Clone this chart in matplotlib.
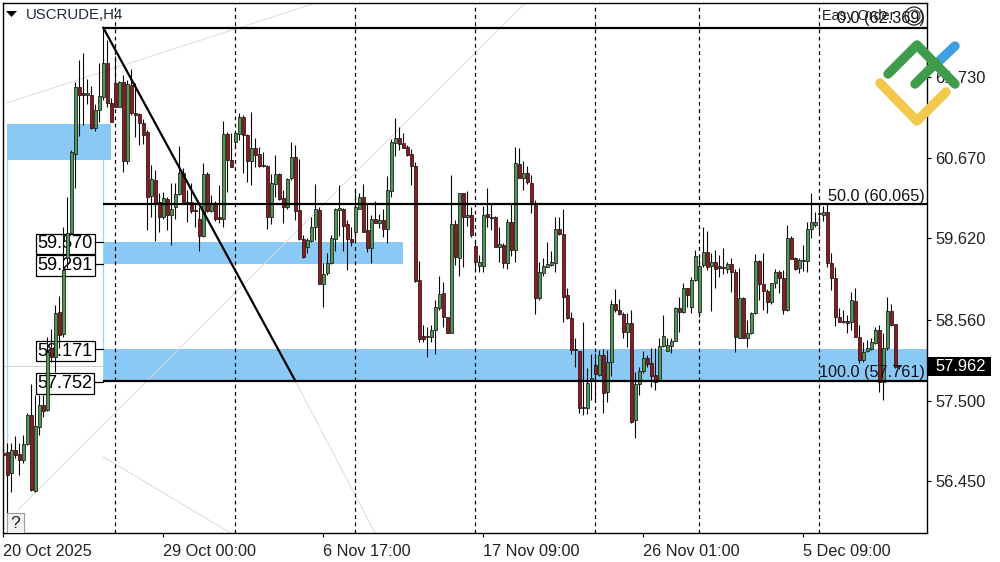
import matplotlib
matplotlib.use("Agg")
import matplotlib.pyplot as plt
from matplotlib.lines import Line2D
from matplotlib.patches import Rectangle, Polygon, Circle
from matplotlib.transforms import Affine2D

opens = [56.82,56.83,56.56,56.86,56.81,56.73,56.94,57.32,56.32,57.16,
57.45,57.38,58.19,58.07,58.66,58.37,59.36,59.69,60.72,61.60,
61.52,61.49,61.49,61.06,61.30,61.46,61.91,61.39,61.65,61.33,
61.66,60.63,61.62,61.26,61.24,61.13,61.01,60.17,60.38,60.09,
59.90,60.13,59.92,60.03,60.20,60.47,60.09,60.09,59.99,59.88,
59.65,60.46,59.98,60.08,59.90,59.88,60.98,60.65,60.88,60.98,
61.20,60.97,60.63,60.80,60.72,60.58,60.56,59.90,60.33,60.46,
60.15,60.03,60.41,60.68,59.99,59.61,59.51,59.59,59.77,59.99,
59.02,59.17,59.30,59.61,59.99,60.00,59.81,59.61,59.70,60.01,
60.16,59.73,59.49,59.88,59.82,59.86,59.74,60.24,60.86,60.93,
60.86,60.81,60.72,60.56,59.08,58.35,58.33,58.33,58.43,58.71,
58.91,58.60,58.39,59.81,59.36,60.21,59.90,59.92,59.52,59.26,
59.26,59.94,59.90,59.90,59.51,59.53,59.30,59.83,59.47,60.59,
60.41,60.47,60.34,60.08,58.84,59.17,59.25,59.27,59.30,59.74,
59.68,58.88,58.58,58.18,58.15,57.42,57.41,57.76,57.97,57.84,
58.10,57.62,58.01,58.77,58.69,58.64,58.40,58.52,57.25,57.72,
57.89,58.06,57.99,57.84,57.76,58.22,58.15,58.22,58.28,58.71,
58.66,58.97,58.72,59.08,58.66,59.27,59.44,59.26,59.31,59.26,
59.25,59.22,59.29,59.18,58.32,58.84,58.32,58.39,58.65,59.32,
59.03,58.93,58.79,59.04,59.18,59.10,58.69,59.62,59.36,59.23,
59.33,59.33,59.74,59.80,59.94,59.92,59.97,59.30,59.10,58.60,
58.54,58.54,58.53,58.80,58.33,58.03,58.15,58.18,58.26,58.43,
57.75,58.19,58.67,58.50,57.96]

highs = [57.06,56.95,56.95,57.04,56.95,57.06,57.34,57.72,57.58,57.58,
57.58,58.33,58.44,58.75,58.87,59.77,60.16,60.77,61.66,61.95,
62.04,61.70,61.61,61.37,61.91,62.37,62.21,61.45,62.00,61.67,
61.75,61.69,61.83,61.65,61.26,61.18,61.04,60.58,60.51,60.21,
60.23,60.16,60.34,60.34,60.83,60.54,60.25,60.34,60.09,60.03,
60.60,60.49,60.19,60.11,60.32,61.15,61.01,60.99,61.04,61.26,
61.23,60.98,61.27,60.93,60.81,60.75,60.58,60.46,60.71,60.47,
60.25,60.41,60.88,60.84,60.66,59.66,59.62,59.90,60.33,60.03,
59.30,59.43,59.66,60.02,60.32,60.02,59.86,59.77,60.28,60.21,
60.33,60.08,59.92,60.11,59.94,60.00,60.43,60.92,61.19,61.07,
60.99,60.84,60.79,60.62,59.32,58.49,58.46,58.49,58.82,59.13,
59.05,58.60,60.45,59.86,60.21,60.21,60.24,60.03,59.58,59.40,
60.05,60.28,60.08,59.91,59.77,59.56,59.88,60.08,60.81,60.80,
60.63,60.56,60.45,60.12,59.31,59.36,59.57,59.45,59.90,59.90,
60.01,58.98,58.66,58.32,58.15,58.53,57.93,58.11,58.12,58.16,
58.18,58.16,58.82,58.96,58.83,58.66,58.65,58.69,57.88,57.94,
58.15,58.10,58.19,58.19,58.32,58.62,58.32,58.32,58.72,58.86,
59.04,58.97,59.12,59.47,59.40,59.77,59.72,59.43,59.47,59.40,
59.49,59.31,59.36,59.22,59.23,58.86,58.56,58.66,59.42,59.34,
59.43,58.96,59.04,59.22,59.21,59.21,59.79,59.65,59.38,59.36,
59.53,59.83,60.21,59.97,60.04,60.05,60.07,59.43,59.25,58.71,
58.69,58.62,58.92,58.97,58.49,58.27,58.30,58.32,58.47,58.49,
58.38,58.85,58.76,58.51,57.97]

lows = [56.51,56.04,56.31,56.75,56.53,56.69,56.92,56.32,56.31,57.05,
57.29,57.37,58.01,57.88,58.19,58.33,59.23,59.68,60.28,60.96,
61.10,61.37,61.05,61.02,61.14,61.43,61.33,61.14,61.33,61.33,
60.49,60.59,61.23,60.94,60.84,60.85,59.73,59.90,59.59,59.71,
59.88,59.73,59.53,59.88,60.19,60.08,59.83,59.95,59.77,59.46,
59.64,59.97,59.97,59.85,59.82,59.77,60.23,60.55,60.80,60.90,
60.47,60.36,60.32,60.55,60.55,60.55,59.75,59.81,60.16,60.12,
59.82,60.01,60.38,59.86,59.60,59.36,59.43,59.57,59.60,59.02,
58.72,59.14,59.29,59.46,59.65,59.46,59.21,59.52,59.57,60.00,
59.70,59.44,59.30,59.82,59.76,59.64,59.56,60.16,60.69,60.77,
60.80,60.69,60.32,59.05,58.27,58.27,58.07,58.27,58.11,58.69,
58.46,58.39,58.39,59.27,59.13,59.25,59.78,59.64,59.21,59.18,
59.18,59.77,59.73,59.51,59.31,59.23,59.22,59.39,59.31,60.41,
60.25,60.33,59.95,58.63,58.82,59.13,59.25,59.26,59.18,59.66,
58.53,58.57,58.11,57.94,57.34,57.31,57.33,57.51,57.51,57.83,
57.34,57.48,57.82,58.66,58.62,58.32,58.20,57.21,57.02,57.58,
57.87,57.94,57.68,57.64,57.76,58.20,58.15,58.12,58.28,58.40,
58.65,58.72,58.65,59.07,58.59,59.25,59.21,58.67,58.97,59.12,
59.16,59.17,58.92,58.14,58.32,58.32,58.20,58.37,58.63,58.82,
58.69,58.65,58.76,58.97,58.91,58.63,58.67,59.35,59.21,59.17,
59.19,59.18,59.62,59.77,59.69,59.85,59.25,58.95,58.48,58.53,
58.52,58.39,58.43,58.33,57.99,58.01,58.14,58.17,58.24,57.62,
57.51,58.16,58.48,57.93,57.91]

closes = [56.79,56.53,56.86,56.80,56.73,56.94,57.32,56.34,57.17,57.45,
57.37,58.14,58.07,58.65,58.36,59.21,59.69,60.75,61.60,61.49,
61.49,61.52,61.06,61.30,61.48,61.91,61.39,61.14,61.33,61.66,
60.63,61.63,61.26,61.23,61.13,60.97,60.16,60.40,60.08,59.90,
60.15,59.92,60.00,60.20,60.47,60.09,60.08,59.98,59.98,59.65,
60.46,59.98,60.08,59.88,59.87,60.98,60.64,60.55,60.99,61.20,
60.97,60.63,60.80,60.71,60.56,60.56,59.90,60.34,60.46,60.13,
60.03,60.40,60.68,59.98,59.61,59.38,59.60,59.77,60.00,59.02,
59.15,59.30,59.63,60.00,60.02,59.78,59.61,59.57,60.03,60.16,
59.70,59.49,59.88,59.82,59.86,59.74,60.25,60.88,60.93,60.85,
60.80,60.71,60.56,59.06,58.31,58.31,58.35,58.43,58.72,58.89,
58.59,58.39,59.81,59.38,60.21,59.90,59.92,59.66,59.31,59.31,
59.92,59.90,59.89,59.51,59.55,59.30,59.83,59.47,60.60,60.41,
60.47,60.36,60.10,58.84,59.18,59.26,59.29,59.31,59.74,59.68,
58.85,58.58,58.16,58.16,57.41,57.41,57.74,57.80,57.85,58.10,
57.60,58.01,58.77,58.68,58.64,58.40,58.52,57.22,57.72,57.89,
58.06,57.98,57.82,57.75,58.22,58.35,58.23,58.28,58.71,58.66,
58.98,58.88,59.08,59.39,59.26,59.44,59.25,59.31,59.22,59.23,
59.23,59.29,59.18,58.33,58.84,58.32,58.39,58.65,59.32,59.03,
58.93,58.79,59.04,59.18,59.10,58.69,59.62,59.35,59.22,59.34,
59.34,59.74,59.83,59.83,59.95,59.97,59.30,59.10,58.60,58.53,
58.53,58.52,58.82,58.33,58.03,58.14,58.19,58.27,58.43,57.75,
58.19,58.67,58.49,57.94,57.96]

y_ticks = [61.730, 60.670, 59.620, 58.560, 57.500, 56.450]
x_ticks = [0, 40, 80, 120, 160, 200]
x_labels = ["20 Oct 2025", "29 Oct 00:00", "6 Nov 17:00", "17 Nov 09:00", "26 Nov 01:00", "5 Dec 09:00"]
period_seps = [28, 58, 88, 118, 148, 174, 204]

zones = [(1, 27, 60.64, 61.11), (25, 100, 59.291, 59.570), (25, 231, 57.752, 58.171)]
fib_levels = [(62.369, "0.0 (62.369)"), (60.065, "50.0 (60.065)"), (57.761, "100.0 (57.761)")]
fib_trend = [(25, 62.369), (73, 57.761)]
price_labels = [59.570, 59.291, 58.171, 57.752]
grey_lines = [[(0.92, 61.39), (77.9, 62.69)],
              [(3.67, 56.08), (130.4, 62.69)],
              [(25, 56.77), (56.7, 55.78)],
              [(73, 57.761), (92.9, 55.78)]]
last_price = 57.962

plt.rcParams['font.family'] = ['Liberation Sans', 'DejaVu Sans']
W, H = 1000, 562
fig = plt.figure(figsize=(W/100, H/100), dpi=100, facecolor='white')
ax = fig.add_axes([3/W, (H-533)/H, (927-3)/W, (533-3)/H])
ax.set_xlim(-0.08, 230.92)
ax.set_ylim(55.776, 62.693)
px = Affine2D().scale(1, -1).translate(0, H)   # pixel decoration space

for s in ax.spines.values():
    s.set_linewidth(1.0)
    s.set_color('black')
ax.yaxis.tick_right()
ax.set_yticks(y_ticks)
ax.set_yticklabels([f"{v:.3f}" for v in y_ticks], fontsize=11.9, color='#222222')
ax.set_xticks(x_ticks)
ax.set_xticklabels(x_labels, fontsize=11.7, color='#222222', ha='left')
ax.tick_params(axis='both', length=3, width=0.8, color='black')
ax.tick_params(axis='y', pad=3)
ax.tick_params(axis='x', pad=5)

BLUE = '#8AC9F6'
for x0, x1, lo, hi in zones:
    ax.add_patch(Rectangle((x0, lo), x1-x0, hi-lo, fc=BLUE, ec='none', zorder=1))

# thin zone frames
ax.plot([1, 1], [56.08, 60.64], color='#A3D2EA', lw=0.9, zorder=1)
ax.plot([25, 25], [57.76, 60.64], color='#A3D2EA', lw=0.9, zorder=1)

# grey trend lines and bid line
for seg in grey_lines:
    xs, ys = zip(*seg)
    ax.plot(xs, ys, color='#DCDCDC', lw=0.7, zorder=1.5)
ax.axhline(last_price, color='#CFCFCF', lw=0.7, zorder=0.5)

# period separators
for s in period_seps:
    ax.axvline(s, color='black', lw=0.9, ls=(0, (3, 2.8)), zorder=2)

# price label boxes (below candles)
for v in price_labels:
    ax.plot([15.4, 25], [v, v], color='black', lw=0.9, zorder=2.2)
for v in price_labels:
    ax.annotate(f"{v:.3f}", xy=(15.45, v), xytext=(0, -1.2), textcoords='offset points',
                fontsize=13.1, color='black', ha='center', va='center', zorder=2.5,
                bbox=dict(boxstyle='square,pad=0.1', fc='white', ec='black', lw=0.9))

# candles
for i, (o, h, l, c) in enumerate(zip(opens, highs, lows, closes)):
    ax.plot([i, i], [l, h], color='#0a0a0a', lw=0.8, zorder=3, solid_capstyle='butt')
    up = c >= o
    ax.add_patch(Rectangle((i-0.32, min(o, c)), 0.64, max(abs(c-o), 0.004),
                           fc='#4F9A52' if up else '#96161C', ec='#161616', lw=0.55, zorder=3.2))

# fibonacci
for v, label in fib_levels:
    ax.plot([25, 231], [v, v], color='black', lw=1.6, zorder=4, solid_capstyle='butt')
xs, ys = zip(*fib_trend)
ax.plot(xs, ys, color='black', lw=1.6, zorder=4)
for (v, label), yp in zip(fib_levels, [18, 196, 372]):
    ax.text(925, yp, label, transform=px, fontsize=11.7, color='#111111', ha='right', va='center', zorder=5)

# header
ax.add_patch(Polygon([(6, 11), (17, 11), (11.5, 17)], closed=True, fc='black', ec='none',
                     transform=px, zorder=6, clip_on=False))
ax.text(26, 15, "USCRUDE,H4", transform=px, fontsize=10.8, color='#1d2b3a', ha='left', va='center', zorder=6)
ax.text(822, 16, "Easy Order", transform=px, fontsize=10.3, color='#222222', ha='left', va='center', zorder=6)
ax.add_patch(Circle((914, 16), 9, fc='none', ec='#222222', lw=0.9, transform=px, zorder=6, clip_on=False))
ax.add_patch(Circle((914, 16), 6, fc='none', ec='#222222', lw=0.7, transform=px, zorder=6, clip_on=False))

# "?" button
ax.add_patch(Rectangle((7, 513), 17, 20, fc='#F2F2F2', ec='#9A9A9A', lw=0.8, transform=px, zorder=6))
ax.text(15.5, 523, "?", transform=px, fontsize=12.5, color='#222222', ha='center', va='center', zorder=6.5)

# last price tag
ax.add_patch(Rectangle((928, 357), 63, 19, fc='black', ec='none', transform=px, zorder=6, clip_on=False))
ax.text(935, 366.5, f"{last_price:.3f}", transform=px, fontsize=11.9, color='white', ha='left', va='center',
        zorder=7, clip_on=False)

# logo
def stroke(pts, col, z):
    xs, ys = zip(*pts)
    ax.add_line(Line2D(xs, ys, transform=px, color=col, lw=6.8, solid_capstyle='round',
                       solid_joinstyle='round', zorder=z, clip_on=False))
stroke([(936, 64), (955, 46)], '#3F9FE3', 8)
stroke([(880, 83), (917, 121), (946, 92)], '#F2C94C', 8)
stroke([(888, 74), (917, 45), (955, 84)], '#3F9C4B', 9)
stroke([(915, 84), (936, 63)], '#3F9C4B', 9)

fig.savefig("out.png", dpi=100, facecolor='white')
